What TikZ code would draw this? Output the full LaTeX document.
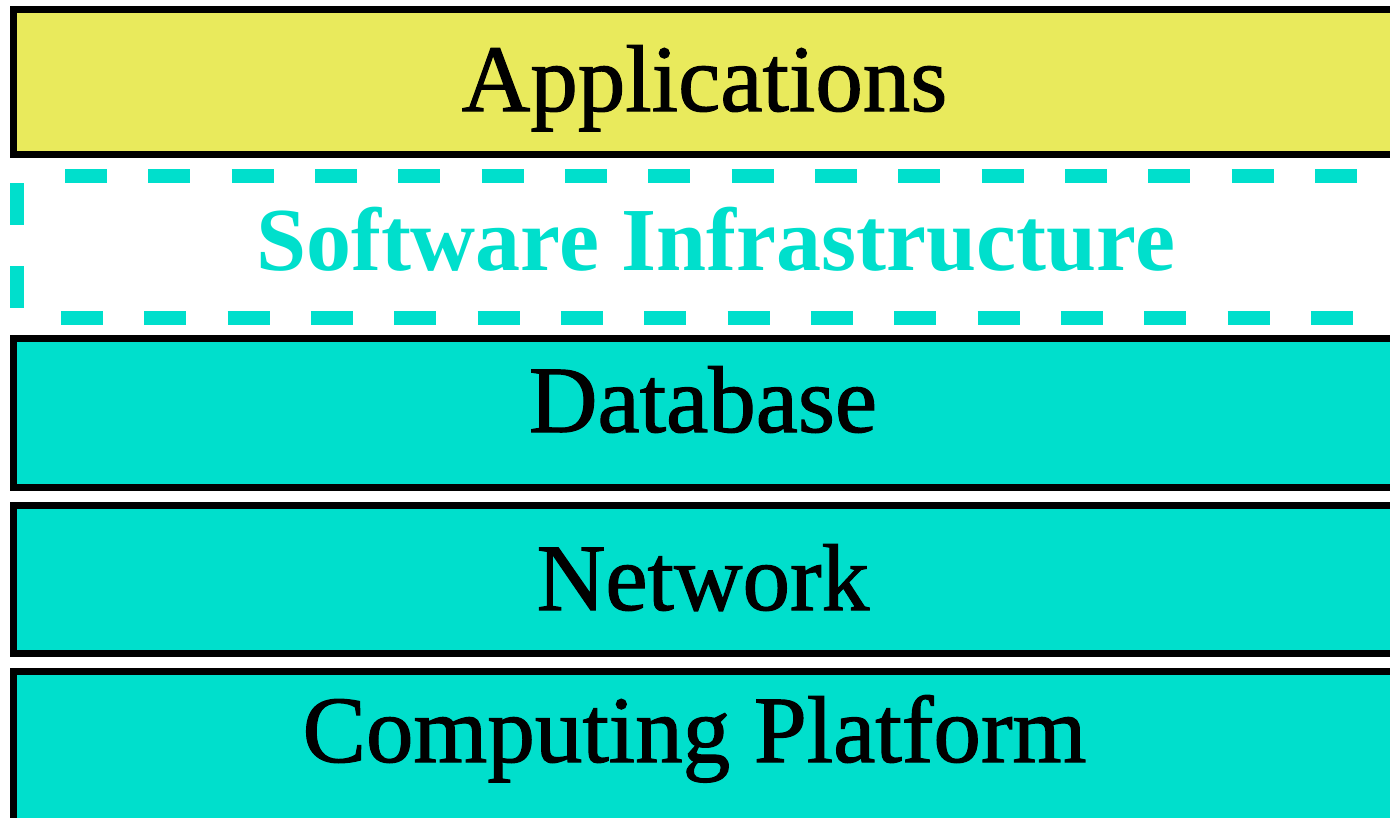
\documentclass[tikz,border=0pt]{standalone}
\usepackage{fontspec}
\setmainfont{Liberation Serif}
\newfontfamily\heavyserif[FakeBold=1.2]{Liberation Serif}
\definecolor{appyellow}{RGB}{233,234,92}
\definecolor{infteal}{RGB}{0,223,204}
\tikzset{
  layer/.style={draw=black, line width=7pt},
  dashline/.style={draw=infteal, line width=14pt, dash pattern=on 42pt off 41.33pt},
  lbl/.style={anchor=base, inner sep=0pt, font=\heavyserif\fontsize{95}{95}\selectfont},
}
\begin{document}
\begin{tikzpicture}[x=1pt,y=-1pt]
\useasboundingbox (0,0) rectangle (1390,817);
\clip (0,0) rectangle (1390,817);
\fill[white] (0,0) rectangle (1390,817);
% layers
\path[layer, fill=appyellow] (13.5,9.5) rectangle (1400,154.5);
\path[layer, fill=infteal] (13.5,338.5) rectangle (1400,487.5);
\path[layer, fill=infteal] (13.5,505.5) rectangle (1400,653.5);
\path[layer, fill=infteal] (13.5,671.5) rectangle (1400,840);
% dashed software infrastructure frame
\path[dashline] (65,176) -- (1400,176);
\path[dashline] (17,183) -- (17,311);
\path[dashline] (61,318) -- (1400,318);
% labels
\node[lbl] (apps) at (704.5,111) {Applications};
\node[lbl, text=infteal, font=\rmfamily\fontsize{90}{90}\selectfont\bfseries] (sw) at (715.5,270) {Software Infrastructure};
\node[lbl] (db) at (703,432) {Database};
\node[lbl] (net) at (703,610) {Network};
\node[lbl] (comp) at (694.5,762) {Computing Platform};
\end{tikzpicture}
\end{document}
